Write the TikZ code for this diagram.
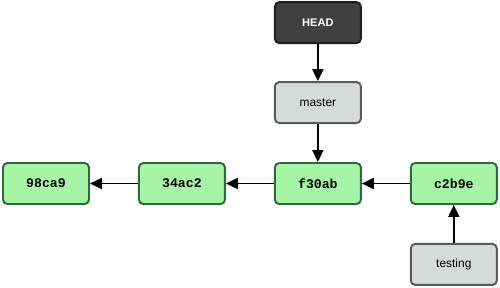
\documentclass[tikz,border=0pt]{standalone}
\usepackage{fontspec}
\setmainfont{Liberation Sans}
\setmonofont{Liberation Mono}
\definecolor{cfill}{HTML}{A6F4A6}
\definecolor{cdraw}{HTML}{2E6B3C}
\definecolor{bfill}{HTML}{D6DBD9}
\definecolor{bdraw}{HTML}{5A5A5A}
\definecolor{hfill}{HTML}{404040}
\definecolor{hdraw}{HTML}{1E1E1E}
\usetikzlibrary{arrows.meta,positioning}
\tikzset{
  >={Triangle[length=2.4mm,width=2.2mm]},
  box/.style={rounded corners=2.5pt,line width=1.1pt,minimum width=1.72cm,minimum height=0.82cm,inner sep=1pt},
  commit/.style={box,draw=cdraw,fill=cfill,font=\fontsize{7.5}{9}\selectfont\ttfamily\bfseries},
  branch/.style={box,draw=bdraw,fill=bfill,font=\fontsize{6.8}{8}\selectfont},
  headbox/.style={box,draw=hdraw,fill=hfill,text=white,font=\fontsize{6.3}{8}\selectfont\bfseries},
  arr/.style={->,draw=black,line width=1.1pt},
}
\begin{document}
\begin{tikzpicture}[node distance=0.96cm]
\useasboundingbox (0,0) rectangle (10,-5.74);
\node[commit] (a) at (0.92,-3.67) {98ca9};
\node[commit,right=of a] (b) {34ac2};
\node[commit,right=of b] (c) {f30ab};
\node[commit,right=of c] (d) {c2b9e};
\node[branch,above=0.76cm of c] (master) {master};
\node[headbox,above=0.74cm of master] (head) {HEAD};
\node[branch,below=0.76cm of d] (testing) {testing};
\foreach \u/\v in {b/a,c/b,d/c,head/master,master/c,testing/d} \draw[arr] (\u)--(\v);
\end{tikzpicture}
\end{document}
